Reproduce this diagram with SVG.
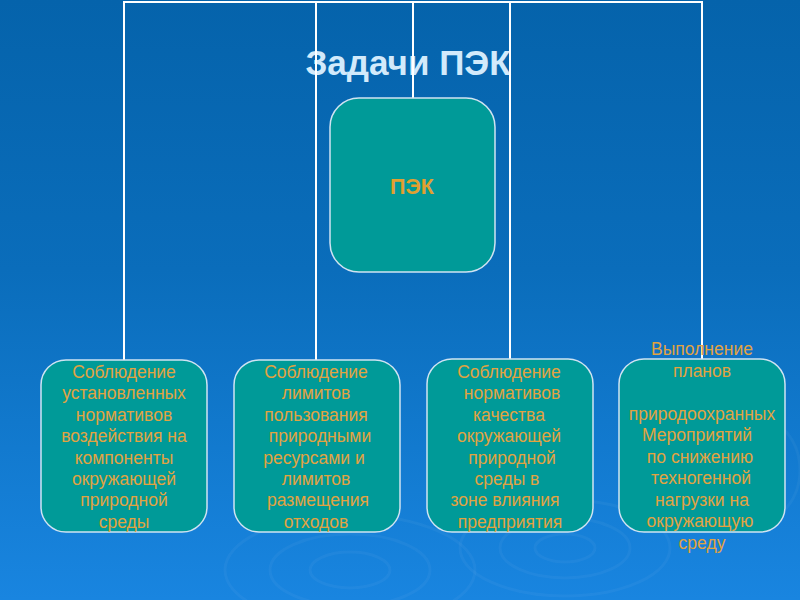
<svg xmlns="http://www.w3.org/2000/svg" width="800" height="600" viewBox="0 0 800 600">
<defs>
<linearGradient id="bg" x1="0" y1="0" x2="0" y2="1">
<stop offset="0" stop-color="#0563ab"/>
<stop offset="0.45" stop-color="#0a6dbb"/>
<stop offset="1" stop-color="#1985e0"/>
</linearGradient>
<style>
.box{fill:#009a98;stroke:#cfe3f2;stroke-width:1.5}
.t{font-family:"Liberation Sans",Arial,sans-serif;font-size:17.5px;fill:#e2a341;text-anchor:middle}
.link{stroke:#ffffff;stroke-width:2;fill:none}
.rip{fill:none;stroke:#ffffff;stroke-opacity:0.04;stroke-width:3}
</style>
</defs>
<rect width="800" height="600" fill="url(#bg)"/>
<g id="ripples">
<ellipse class="rip" cx="350" cy="570" rx="40" ry="18"/>
<ellipse class="rip" cx="350" cy="570" rx="80" ry="36"/>
<ellipse class="rip" cx="350" cy="570" rx="125" ry="55"/>
<ellipse class="rip" cx="565" cy="548" rx="30" ry="14"/>
<ellipse class="rip" cx="565" cy="548" rx="65" ry="30"/>
<ellipse class="rip" cx="565" cy="548" rx="105" ry="48"/>
<ellipse class="rip" cx="740" cy="470" rx="60" ry="60"/>
</g>
<text x="408" y="75" font-family="'Liberation Sans',Arial,sans-serif" font-size="35" font-weight="bold" fill="#d2eafb" text-anchor="middle">Задачи ПЭК</text>
<g id="connectors">
<path class="link" d="M124 361 V2 H702 V360"/>
<path class="link" d="M316 361 V2"/>
<path class="link" d="M510 359 V2"/>
<path class="link" d="M413 98 V2"/>
</g>
<g id="root">
<rect class="box" x="330" y="98" width="165" height="174" rx="29"/>
<text x="412" y="194" font-family="'Liberation Sans',Arial,sans-serif" font-size="21.5" font-weight="bold" fill="#e2a030" text-anchor="middle">ПЭК</text>
</g>
<g id="task1">
<rect class="box" x="41" y="360" width="166" height="172" rx="25"/>
<text class="t"><tspan x="124" y="378">Соблюдение</tspan><tspan x="124" y="399.4">установленных</tspan><tspan x="124" y="420.8">нормативов</tspan><tspan x="124" y="442.2">воздействия на</tspan><tspan x="124" y="463.6">компоненты</tspan><tspan x="124" y="485">окружающей</tspan><tspan x="124" y="506.4">природной</tspan><tspan x="124" y="527.8">среды</tspan></text>
</g>
<g id="task2">
<rect class="box" x="234" y="360" width="166" height="172" rx="25"/>
<text class="t"><tspan x="316" y="378">Соблюдение</tspan><tspan x="316" y="399.4">лимитов</tspan><tspan x="316" y="420.8">пользования</tspan><tspan x="320" y="442.2">природными</tspan><tspan x="314" y="463.6">ресурсами и</tspan><tspan x="316" y="485">лимитов</tspan><tspan x="318" y="506.4">размещения</tspan><tspan x="316" y="527.8">отходов</tspan></text>
</g>
<g id="task3">
<rect class="box" x="427" y="359" width="166" height="173" rx="25"/>
<text class="t"><tspan x="509" y="378">Соблюдение</tspan><tspan x="512" y="399.4">нормативов</tspan><tspan x="509" y="420.8">качества</tspan><tspan x="509" y="442.2">окружающей</tspan><tspan x="512" y="463.6">природной</tspan><tspan x="507" y="485">среды в</tspan><tspan x="505" y="506.4">зоне влияния</tspan><tspan x="510" y="527.8">предприятия</tspan></text>
</g>
<g id="task4">
<rect class="box" x="619" y="359" width="166" height="173" rx="25"/>
<text class="t"><tspan x="702" y="355">Выполнение</tspan><tspan x="702" y="376.5">планов</tspan><tspan x="702" y="419.5">природоохранных</tspan><tspan x="697" y="441">Мероприятий</tspan><tspan x="700" y="462.5">по снижению</tspan><tspan x="701" y="484">техногенной</tspan><tspan x="702" y="505.5">нагрузки на</tspan><tspan x="700" y="527">окружающую</tspan><tspan x="702" y="548.5">среду</tspan></text>
</g>
</svg>
